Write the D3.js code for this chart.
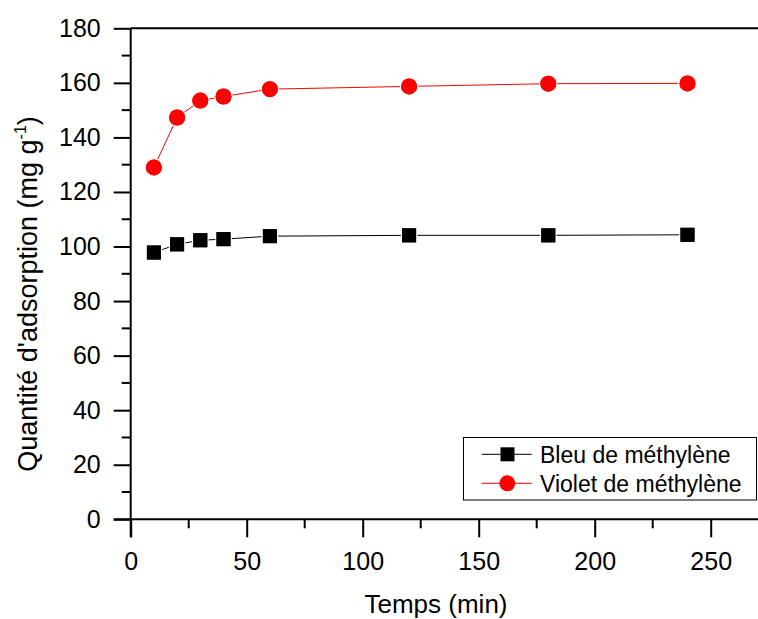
<!DOCTYPE html>
<html><head><meta charset="utf-8">
<script src="https://cdn.jsdelivr.net/npm/d3@7"></script>
<style>body{margin:0;background:#fff}svg{display:block}text{font-family:"Liberation Sans",Arial,sans-serif}</style>
</head><body>
<script>
const times = [10, 20, 30, 40, 60, 120, 180, 240];
const bleu = [97.8, 100.8, 102.3, 102.7, 103.8, 104.1, 104.1, 104.3];
const violet = [129.0, 147.3, 153.5, 155.0, 157.7, 158.7, 159.7, 159.8];
const xTicks = [0, 50, 100, 150, 200, 250];
const yTicks = [0, 20, 40, 60, 80, 100, 120, 140, 160, 180];
const seriesNames = ["Bleu de méthylène", "Violet de méthylène"];

const W = 758, H = 619;
const L = 130.7, T = 28.3, B = 519.3;
const svg = d3.select("body").append("svg").attr("width", W).attr("height", H);
const x = d3.scaleLinear().domain([0, 250]).range([L, 710.7]);
const y = d3.scaleLinear().domain([0, 180]).range([B, T]);
const FF = "Liberation Sans, Arial, sans-serif";

// top border
svg.append("line").attr("x1", L).attr("x2", W).attr("y1", T).attr("y2", T)
  .attr("stroke", "#000").attr("stroke-width", 2);

// x axis
const xAxis = d3.axisBottom(x).tickValues(xTicks).tickSize(18).tickPadding(15);
const gx = svg.append("g").attr("transform", `translate(0,${B})`).call(xAxis);
gx.select(".domain").remove();
gx.append("line").attr("x1", L - 17).attr("x2", W).attr("stroke", "#000").attr("stroke-width", 2);
gx.selectAll(".tick line").attr("stroke-width", 2);
gx.selectAll(".tick text").attr("font-size", 25).attr("fill", "#000").attr("font-family", FF);
const xMinor = d3.range(25, 270, 50);
gx.selectAll(".minor").data(xMinor).enter().append("line")
  .attr("x1", d => x(d)).attr("x2", d => x(d)).attr("y1", 0).attr("y2", 9)
  .attr("stroke", "#000").attr("stroke-width", 2);

// y axis
const yAxis = d3.axisLeft(y).tickValues(yTicks).tickSize(17).tickPadding(13);
const gy = svg.append("g").attr("transform", `translate(${L},0)`).call(yAxis);
gy.select(".domain").remove();
gy.append("line").attr("y1", T).attr("y2", B + 18).attr("stroke", "#000").attr("stroke-width", 2);
gy.selectAll(".tick line").attr("stroke-width", 2);
gy.selectAll(".tick text").attr("font-size", 25).attr("fill", "#000").attr("font-family", FF);
const yMinor = d3.range(10, 180, 20);
gy.selectAll(".minor").data(yMinor).enter().append("line")
  .attr("y1", d => y(d)).attr("y2", d => y(d)).attr("x1", 0).attr("x2", -9)
  .attr("stroke", "#000").attr("stroke-width", 2);

// titles
svg.append("text").attr("x", 436).attr("y", 613).attr("text-anchor", "middle")
  .attr("font-size", 26).text("Temps (min)");
const yt = svg.append("text").attr("transform", "translate(37,294) rotate(-90)")
  .attr("text-anchor", "middle").attr("font-size", 27);
yt.append("tspan").text("Quantité d'adsorption (mg g");
yt.append("tspan").attr("font-size", 16).attr("dy", -11).text("-1");
yt.append("tspan").attr("dy", 11).text(")");

// series
const line = d3.line().x(d => x(d[0])).y(d => y(d[1]));
const dBleu = times.map((t, i) => [t, bleu[i]]);
const dViolet = times.map((t, i) => [t, violet[i]]);
svg.append("path").datum(dBleu).attr("d", line).attr("fill", "none").attr("stroke", "#000").attr("stroke-width", 1);
svg.append("path").datum(dViolet).attr("d", line).attr("fill", "none").attr("stroke", "#f00").attr("stroke-width", 1);
svg.selectAll(".sq").data(dBleu).enter().append("rect")
  .attr("x", d => x(d[0]) - 7).attr("y", d => y(d[1]) - 7).attr("width", 14).attr("height", 14)
  .attr("fill", "#000").attr("stroke", "#fff").attr("stroke-width", 2.5).attr("paint-order", "stroke");
svg.selectAll(".ci").data(dViolet).enter().append("circle")
  .attr("cx", d => x(d[0])).attr("cy", d => y(d[1])).attr("r", 8)
  .attr("fill", "#f00").attr("stroke", "#fff").attr("stroke-width", 2.5).attr("paint-order", "stroke");
svg.selectAll(".ci2").data(dViolet).enter().append("circle")
  .attr("cx", d => x(d[0])).attr("cy", d => y(d[1])).attr("r", 8).attr("fill", "#f00");
svg.selectAll(".sq2").data(dBleu).enter().append("rect")
  .attr("x", d => x(d[0]) - 7).attr("y", d => y(d[1]) - 7).attr("width", 14).attr("height", 14).attr("fill", "#000");

// legend
const lg = svg.append("g");
lg.append("rect").attr("x", 463.5).attr("y", 437.5).attr("width", 293).attr("height", 62.5)
  .attr("fill", "#fff").attr("stroke", "#000").attr("stroke-width", 1);
const rows = [{name: seriesNames[0], color: "#000", shape: "sq", cy: 454.3},
              {name: seriesNames[1], color: "#f00", shape: "ci", cy: 483.3}];
rows.forEach(r => {
  lg.append("line").attr("x1", 481.7).attr("x2", 531.7).attr("y1", r.cy).attr("y2", r.cy)
    .attr("stroke", r.color).attr("stroke-width", 1);
  if (r.shape === "sq") {
    lg.append("rect").attr("x", 500.5).attr("y", r.cy - 7).attr("width", 14).attr("height", 14).attr("fill", r.color);
  } else {
    lg.append("circle").attr("cx", 507.3).attr("cy", r.cy).attr("r", 8).attr("fill", r.color);
  }
  lg.append("text").attr("x", 540).attr("y", r.cy + 8.5).attr("font-size", 23).text(r.name);
});
</script>
</body></html>
